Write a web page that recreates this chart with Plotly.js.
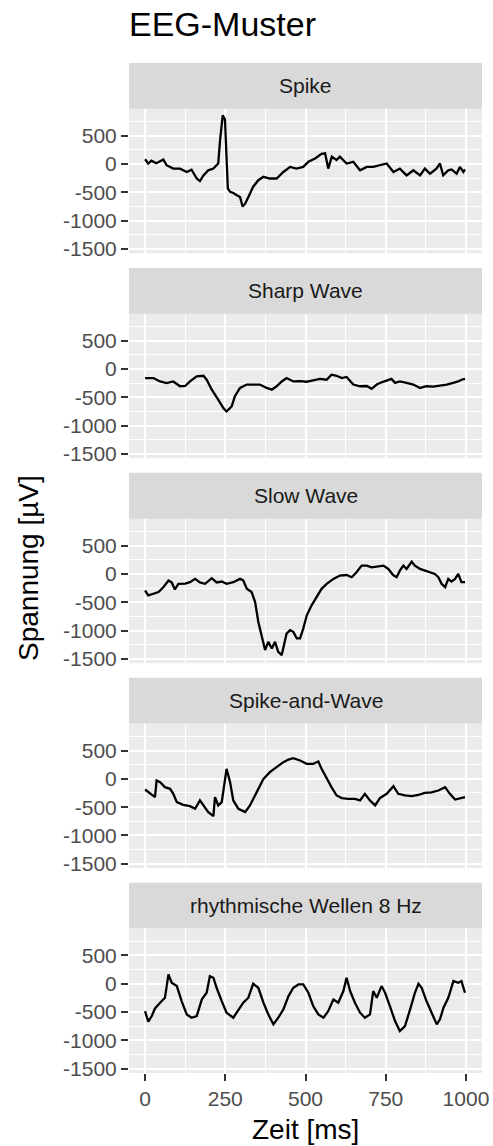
<!DOCTYPE html>
<html>
<head>
<meta charset="utf-8">
<script src="https://cdn.plot.ly/plotly-3.0.1.min.js"></script>
<style>html,body{margin:0;padding:0;background:#fff}#chart{width:493px;height:1146px}</style>
</head>
<body>
<div id="chart"></div>
<script>
// ---- Data ----
const panelNames = ['Spike', 'Sharp Wave', 'Slow Wave', 'Spike-and-Wave', 'rhythmische Wellen 8 Hz'];
const xTickVals = [0, 250, 500, 750, 1000];
const xTickText = ['0', '250', '500', '750', '1000'];
const yTickVals = [-1500, -1000, -500, 0, 500];
const yTickText = ['-1500', '-1000', '-500', '0', '500'];

const spikeT = [0,10,20,35,57,67,88,109,130,145,161,171,182,197,213,228,234,242,249,254,258,265,275,286,296,304,312,322,337,353,369,389,410,431,452,472,493,509,530,550,561,571,582,597,607,628,649,670,691,711,732,753,774,794,815,836,857,872,888,908,919,929,945,955,971,981,992,997];
const spikeV = [85,10,60,15,80,-20,-80,-80,-140,-100,-255,-300,-200,-110,-80,10,430,860,790,150,-430,-490,-510,-550,-580,-750,-700,-580,-400,-285,-225,-255,-255,-140,-50,-80,-50,40,100,180,190,-80,130,70,130,10,40,-110,-50,-50,-20,10,-140,-80,-200,-110,-200,-80,-170,-80,10,-200,-110,-95,-170,-50,-140,-95];

const sharpT = [0,26,47,67,88,109,125,140,161,182,192,208,228,244,254,270,280,296,317,337,358,379,395,410,426,441,462,483,504,524,545,566,581,597,613,628,649,670,691,706,722,737,753,768,779,794,815,836,857,877,898,919,940,960,976,986,997];
const sharpV = [-160,-160,-220,-250,-220,-305,-300,-220,-130,-120,-190,-365,-540,-690,-750,-660,-480,-335,-275,-280,-275,-335,-365,-305,-220,-160,-220,-215,-225,-200,-175,-190,-100,-120,-160,-140,-275,-305,-300,-350,-275,-235,-200,-175,-245,-220,-245,-275,-335,-305,-310,-295,-275,-245,-220,-190,-175];

const slowT = [0,10,26,42,57,73,83,93,104,125,140,156,171,187,208,223,239,254,275,296,306,317,332,343,353,364,374,384,395,405,415,426,431,441,452,462,473,483,493,504,519,535,550,566,587,607,628,644,659,675,691,706,727,743,758,773,784,794,805,815,831,841,857,872,888,903,914,924,935,945,955,966,976,986,997];
const slowV = [-293,-380,-350,-320,-235,-117,-150,-275,-175,-170,-146,-88,-150,-175,-76,-150,-135,-175,-146,-88,-115,-263,-320,-497,-848,-1140,-1345,-1200,-1316,-1200,-1375,-1433,-1287,-1053,-994,-1023,-1140,-1140,-965,-731,-555,-410,-263,-175,-88,-29,-20,-58,29,146,146,117,135,146,88,-20,-58,58,146,88,216,146,88,58,29,0,-58,-175,-234,-88,-135,-88,0,-146,-146];

const swT = [0,16,31,36,47,62,78,88,99,119,140,156,171,182,197,213,218,228,239,254,265,275,291,312,327,348,369,389,410,431,447,462,483,504,524,540,550,566,581,597,613,633,654,670,685,701,717,732,753,774,789,810,831,852,872,893,914,935,950,966,981,997];
const swV = [-188,-265,-323,-29,-59,-147,-176,-265,-412,-459,-482,-529,-382,-470,-588,-659,-323,-470,-412,176,-59,-382,-529,-588,-470,-235,0,118,206,294,341,365,323,265,265,306,176,0,-147,-294,-341,-353,-353,-382,-265,-382,-470,-341,-265,-129,-265,-294,-305,-282,-247,-240,-206,-147,-265,-365,-340,-323];

const rhythT = [0,10,21,31,47,62,73,83,99,114,130,145,161,177,192,202,213,223,239,254,275,291,306,322,337,353,369,384,400,415,431,447,462,478,493,509,524,540,556,571,587,602,618,628,639,654,670,685,701,711,722,737,748,763,779,794,810,826,841,852,862,877,893,909,919,930,945,961,976,986,997];
const rhythV = [-482,-670,-570,-435,-335,-247,165,18,-41,-306,-541,-600,-570,-276,-159,135,106,-71,-306,-511,-600,-453,-335,-247,0,-71,-335,-541,-717,-600,-453,-218,-71,-12,-12,-159,-394,-541,-600,-482,-276,-335,-129,106,-129,-335,-511,-600,-541,-129,-247,-41,-159,-394,-659,-835,-747,-453,-159,0,-71,-306,-511,-717,-629,-423,-247,47,18,47,-159];

const seriesT = [spikeT, sharpT, slowT, swT, rhythT];
const seriesV = [spikeV, sharpV, slowV, swV, rhythV];

// ---- Layout geometry (pixels) ----
const W = 493, H = 1146;
const mL = 129, mR = 11, mT = 63, mB = 73;
const plotH = H - mT - mB;           // 1010
const gapPx = 14.6;
const periodPx = (plotH + gapPx) / 5;
const stripPx = 45.8;
const toFrac = px => (plotH - px) / plotH; // px measured from top of plot area

const FONT = 'Liberation Sans, Arial, sans-serif';
const SMALL = 21;

const traces = [];
const layout = {
  width: W, height: H,
  margin: {l: mL, r: mR, t: mT, b: mB, pad: 0},
  paper_bgcolor: '#FFFFFF',
  plot_bgcolor: '#EBEBEB',
  showlegend: false,
  font: {family: FONT, color: '#4D4D4D'},
  shapes: [], annotations: []
};

for (let i = 0; i < 5; i++) {
  const n = i === 0 ? '' : String(i + 1);
  const top = i * periodPx;
  const stripBottom = top + stripPx;
  const panelBottom = top + periodPx - gapPx;
  const isLast = i === 4;

  traces.push({
    type: 'scatter', mode: 'lines',
    x: seriesT[i], y: seriesV[i],
    xaxis: 'x' + n, yaxis: 'y' + n,
    line: {color: '#000000', width: 2.3},
    hoverinfo: 'skip'
  });

  layout['xaxis' + n] = {
    domain: [0, 1], anchor: 'y' + n,
    range: [-50, 1050], autorange: false,
    tickmode: 'array', tickvals: xTickVals, ticktext: xTickText,
    showticklabels: isLast,
    ticks: isLast ? 'outside' : '', ticklen: 7, tickwidth: 2, tickcolor: '#333333',
    tickfont: {family: FONT, size: SMALL, color: '#4D4D4D'},
    showgrid: true, gridcolor: '#FFFFFF', gridwidth: 2,
    minor: {tickmode: 'array', tickvals: [125, 375, 625, 875], showgrid: true, gridcolor: '#FFFFFF', gridwidth: 1, ticks: ''},
    zeroline: false, showline: false, fixedrange: true
  };
  layout['yaxis' + n] = {
    domain: [toFrac(panelBottom), toFrac(stripBottom)], anchor: 'x' + n,
    range: [-1576, 976], autorange: false,
    tickmode: 'array', tickvals: yTickVals, ticktext: yTickText,
    ticks: 'outside', ticklen: 7, tickwidth: 2, tickcolor: '#333333',
    tickfont: {family: FONT, size: SMALL, color: '#4D4D4D'},
    showgrid: true, gridcolor: '#FFFFFF', gridwidth: 2,
    minor: {tickmode: 'array', tickvals: [-1250, -750, -250, 250, 750], showgrid: true, gridcolor: '#FFFFFF', gridwidth: 1, ticks: ''},
    zeroline: false, showline: false, fixedrange: true
  };

  layout.shapes.push({
    type: 'rect', xref: 'paper', yref: 'paper',
    x0: 0, x1: 1, y0: toFrac(stripBottom), y1: toFrac(top),
    fillcolor: '#D9D9D9', line: {width: 0}, layer: 'below'
  });
  layout.annotations.push({
    xref: 'paper', yref: 'paper', x: 0.5, y: (toFrac(stripBottom) + toFrac(top)) / 2,
    xanchor: 'center', yanchor: 'middle', showarrow: false,
    text: panelNames[i],
    font: {family: FONT, size: SMALL, color: '#1A1A1A'}
  });
}

// Plot title
layout.annotations.push({
  xref: 'paper', yref: 'paper', x: 0, y: 1 + 18 / plotH,
  xanchor: 'left', yanchor: 'bottom', showarrow: false, xshift: -2,
  text: 'EEG-Muster',
  font: {family: FONT, size: 34, color: '#000000'}
});
// Axis titles
layout.annotations.push({
  xref: 'paper', yref: 'paper', x: -(mL - 28) / (W - mL - mR), y: 0.5,
  xanchor: 'center', yanchor: 'middle', showarrow: false, textangle: -90,
  text: 'Spannung [µV]',
  font: {family: FONT, size: 28, color: '#000000'}
});
layout.annotations.push({
  xref: 'paper', yref: 'paper', x: 0.5, y: -(1129 - (mT + plotH)) / plotH,
  xanchor: 'center', yanchor: 'middle', showarrow: false,
  text: 'Zeit [ms]',
  font: {family: FONT, size: 28, color: '#000000'}
});

Plotly.newPlot('chart', traces, layout, {staticPlot: true, displayModeBar: false});
</script>
</body>
</html>
